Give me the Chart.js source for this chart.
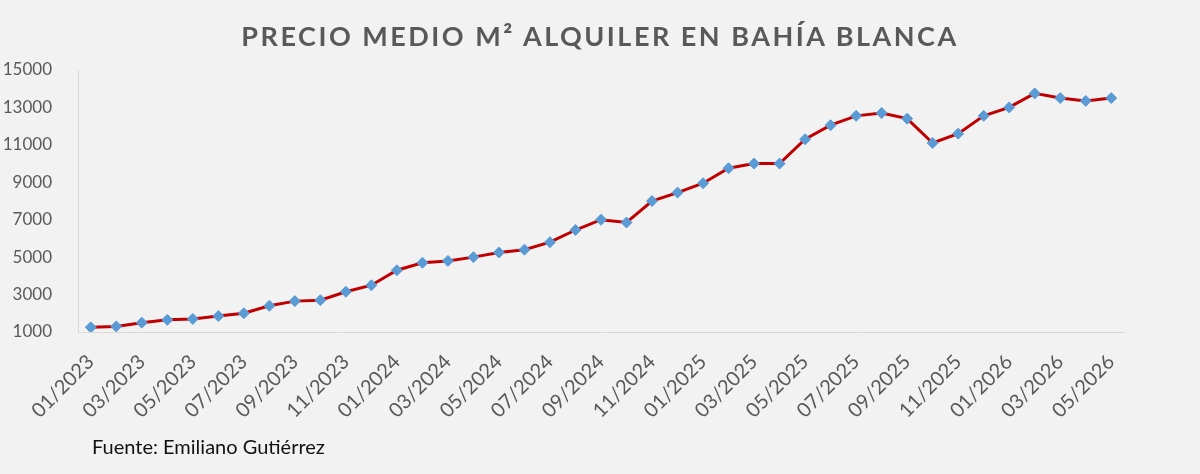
<!DOCTYPE html>
<html>
<head>
  <meta charset="utf-8" />
  <title>Precio medio m² alquiler en Bahía Blanca</title>
  <style>
    html, body { margin: 0; padding: 0; background: #f2f2f2; }
    #wrap { position: relative; width: 1200px; height: 474px; }
    #titulo {
      position: absolute; left: 0; top: 19px; width: 1200px;
      text-align: center; font: bold 27px Lato; letter-spacing: 2.5px; color: #595959;
    }
    #fuente { position: absolute; left: 92px; top: 434px; font: 20px Lato; color: #111; }
  </style>
</head>
<body>
  <div id="wrap">
    <canvas id="stage" width="1200" height="474"></canvas>
    <div id="titulo">PRECIO MEDIO M² ALQUILER EN BAHÍA BLANCA</div>
    <div id="fuente">Fuente: Emiliano Gutiérrez</div>
  </div>

  <script src="https://cdn.jsdelivr.net/npm/chart.js@4/dist/chart.umd.min.js"></script>
  <script>
    // meses (01/2023 .. 05/2026)
    const meses = [
      '01/2023','02/2023','03/2023','04/2023','05/2023','06/2023','07/2023','08/2023','09/2023','10/2023','11/2023','12/2023',
      '01/2024','02/2024','03/2024','04/2024','05/2024','06/2024','07/2024','08/2024','09/2024','10/2024','11/2024','12/2024',
      '01/2025','02/2025','03/2025','04/2025','05/2025','06/2025','07/2025','08/2025','09/2025','10/2025','11/2025','12/2025',
      '01/2026','02/2026','03/2026','04/2026','05/2026'
    ];

    // precio medio por m²
    const precios = [
      1250, 1300, 1500, 1650, 1700, 1850, 2000, 2400, 2650, 2700, 3150, 3500,
      4300, 4700, 4800, 5000, 5250, 5400, 5800, 6450, 7000, 6850, 8000, 8450,
      8950, 9750, 10000, 10000, 11300, 12050, 12550, 12700, 12400, 11100, 11600, 12550,
      13000, 13750, 13500, 13350, 13500
    ];

    const ejeYMin = 1000;
    const ejeYMax = 15000;
    const ejeYPaso = 2000;

    const gris = '#595959';

    new Chart(document.getElementById('stage'), {
      type: 'line',
      data: {
        labels: meses,
        datasets: [{
          data: precios,
          borderColor: '#c00000',
          borderWidth: 3,
          tension: 0,
          pointStyle: 'rectRot',
          pointRadius: 5.5,
          pointBackgroundColor: '#5b9bd5',
          pointBorderColor: '#5b9bd5',
          pointBorderWidth: 1,
        }]
      },
      options: {
        responsive: false,
        animation: false,
        layout: { padding: { top: 70, right: 76, left: 0, bottom: 0 } },
        plugins: {
          legend: { display: false },
          tooltip: { enabled: false },
        },
        scales: {
          x: {
            offset: true,
            grid: { display: false },
            border: { color: '#d9d9d9', width: 1 },
            ticks: {
              autoSkip: false,
              minRotation: 45,
              maxRotation: 45,
              color: gris,
              font: { family: 'Lato', size: 20 },
              padding: 10,
              callback: (v, i) => (i % 2 === 0 ? meses[i] : ''),
            },
            afterFit: s => { s.height = 142; },
          },
          y: {
            min: ejeYMin,
            max: ejeYMax,
            grid: { display: false },
            border: { color: '#d9d9d9', width: 1 },
            ticks: {
              stepSize: ejeYPaso,
              color: gris,
              font: { family: 'Lato', size: 17 },
              padding: 18,
              callback: v => String(v),
            },
            afterFit: s => { s.width = 78; },
          }
        }
      }
    });
  </script>
</body>
</html>
